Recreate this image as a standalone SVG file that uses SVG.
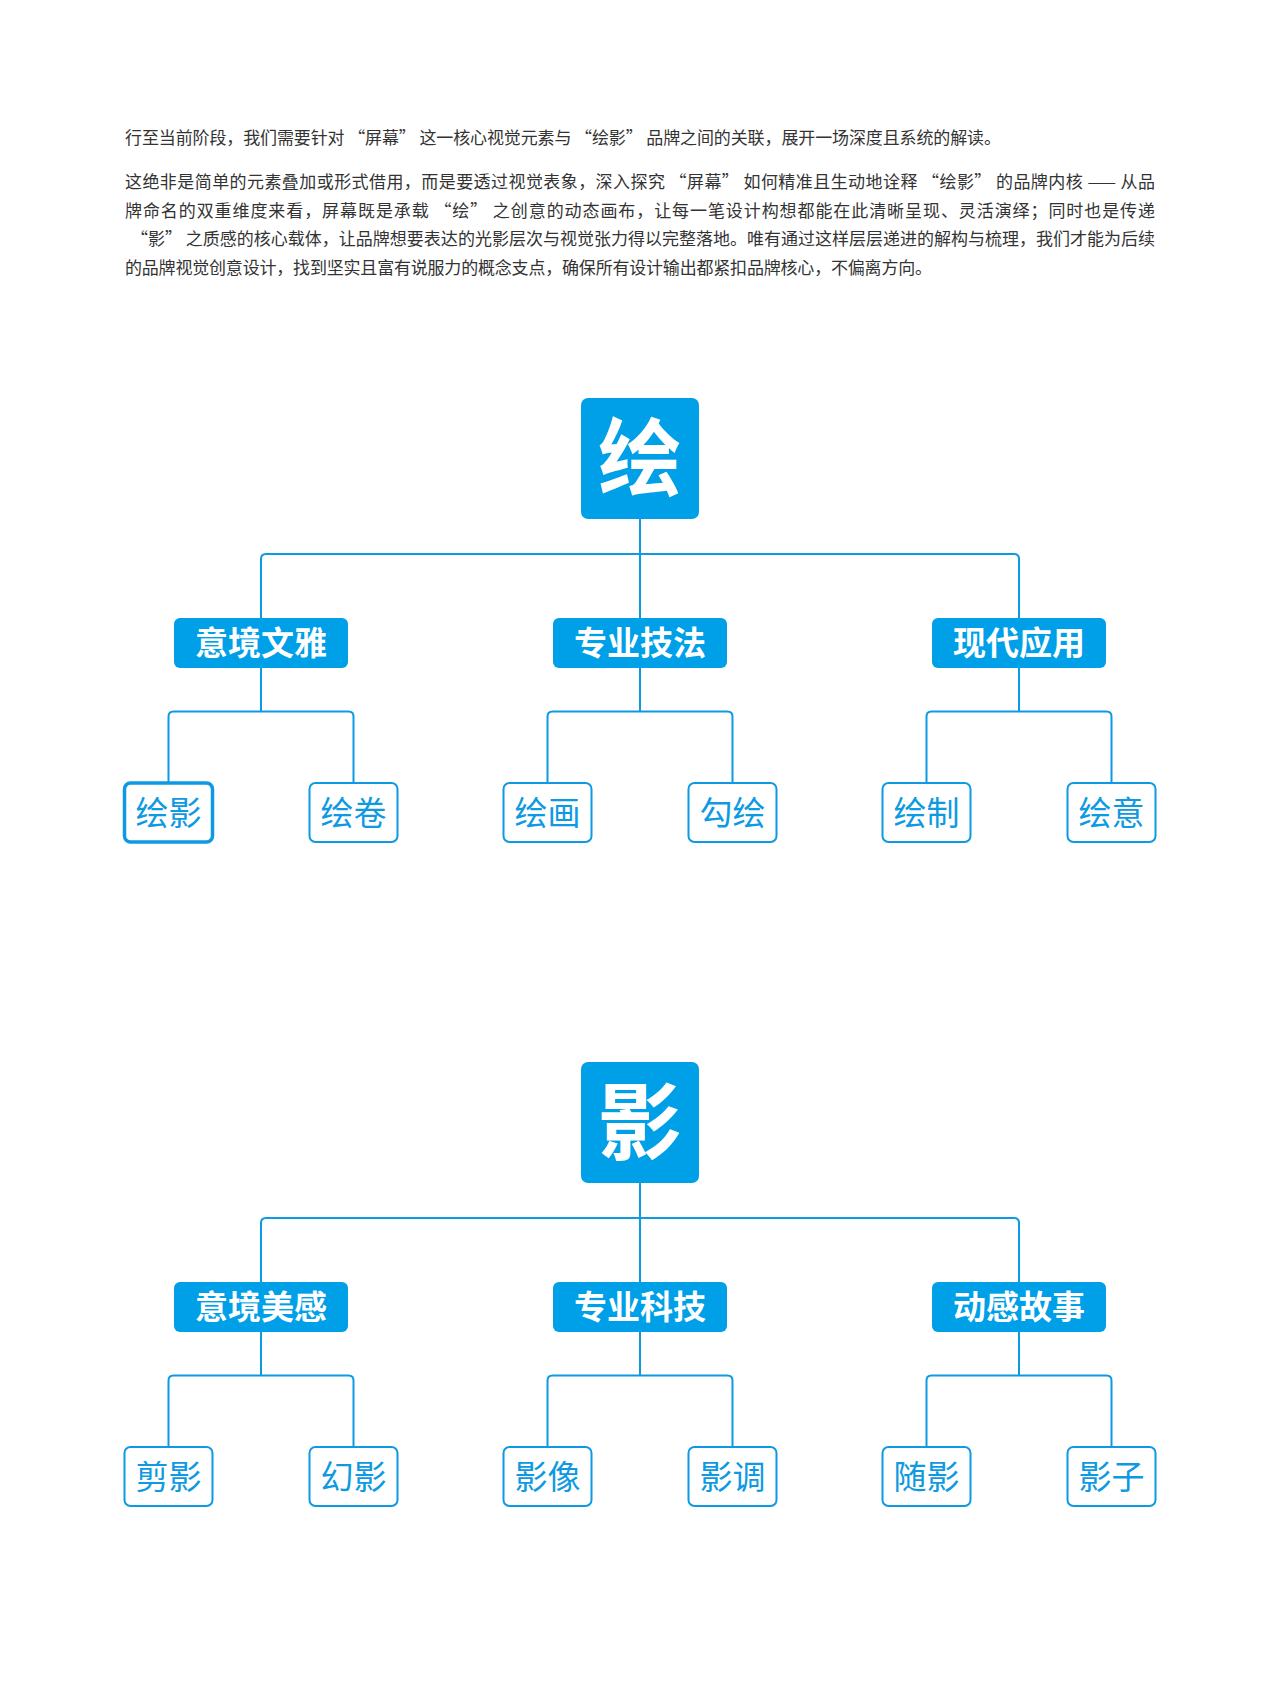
<svg xmlns="http://www.w3.org/2000/svg" width="1280" height="1707" viewBox="0 0 1280 1707">
<style>
.p{font-family:"Noto Sans CJK SC","Noto Sans",sans-serif;font-size:17px;fill:#333333}
.root rect{fill:#00a0e9}
.root text{font-family:"Noto Sans CJK SC",sans-serif;font-size:84px;font-weight:700;fill:#ffffff;text-anchor:middle}
.mid rect{fill:#00a0e9}
.mid text{font-family:"Noto Sans CJK SC",sans-serif;font-size:33px;font-weight:700;fill:#ffffff;text-anchor:middle}
.leaf rect{fill:#ffffff;stroke:#0e9ae2;stroke-width:2}
.leaf.sel rect{stroke-width:3.5}
.leaf text{font-family:"Noto Sans CJK SC",sans-serif;font-size:33px;font-weight:400;fill:#0e9ae2;text-anchor:middle}
.conn path{fill:none;stroke:#0e9ae2;stroke-width:2}
</style>
<rect width="1280" height="1707" fill="#ffffff"/>
<g id="intro">
<text class="p" x="125" y="143.5" textLength="876" lengthAdjust="spacing">行至当前阶段，我们需要针对 “屏幕” 这一核心视觉元素与 “绘影” 品牌之间的关联，展开一场深度且系统的解读。</text>
<text class="p" x="125" y="188" textLength="1030" lengthAdjust="spacing">这绝非是简单的元素叠加或形式借用，而是要透过视觉表象，深入探究 “屏幕” 如何精准且生动地诠释 “绘影” 的品牌内核 —— 从品</text>
<text class="p" x="125" y="216.5" textLength="1030" lengthAdjust="spacing">牌命名的双重维度来看，屏幕既是承载 “绘” 之创意的动态画布，让每一笔设计构想都能在此清晰呈现、灵活演绎；同时也是传递</text>
<text class="p" x="131" y="245" textLength="1024" lengthAdjust="spacing">“影” 之质感的核心载体，让品牌想要表达的光影层次与视觉张力得以完整落地。唯有通过这样层层递进的解构与梳理，我们才能为后续</text>
<text class="p" x="125" y="273.5" textLength="807" lengthAdjust="spacing">的品牌视觉创意设计，找到坚实且富有说服力的概念支点，确保所有设计输出都紧扣品牌核心，不偏离方向。</text>
</g>
<g id="connectors" class="conn">
<path d="M640 519 V618"/>
<path d="M261 618 V559 Q261 554 266 554 H1014 Q1019 554 1019 559 V618"/>
<path d="M261 668 V711.5 M168.5 783 V716.5 Q168.5 711.5 173.5 711.5 H348.5 Q353.5 711.5 353.5 716.5 V783"/>
<path d="M640 668 V711.5 M547.5 783 V716.5 Q547.5 711.5 552.5 711.5 H727.5 Q732.5 711.5 732.5 716.5 V783"/>
<path d="M1019 668 V711.5 M926.5 783 V716.5 Q926.5 711.5 931.5 711.5 H1106.5 Q1111.5 711.5 1111.5 716.5 V783"/>
<path d="M640 1183 V1282"/>
<path d="M261 1282 V1223 Q261 1218 266 1218 H1014 Q1019 1218 1019 1223 V1282"/>
<path d="M261 1332 V1375.5 M168.5 1447 V1380.5 Q168.5 1375.5 173.5 1375.5 H348.5 Q353.5 1375.5 353.5 1380.5 V1447"/>
<path d="M640 1332 V1375.5 M547.5 1447 V1380.5 Q547.5 1375.5 552.5 1375.5 H727.5 Q732.5 1375.5 732.5 1380.5 V1447"/>
<path d="M1019 1332 V1375.5 M926.5 1447 V1380.5 Q926.5 1375.5 931.5 1375.5 H1106.5 Q1111.5 1375.5 1111.5 1380.5 V1447"/>
</g>
<g id="n-hui" class="root"><rect x="581" y="398" width="118" height="121" rx="7"/><text x="640" y="489">绘</text></g>
<g id="n-yijingwenya" class="mid"><rect x="174" y="618" width="174" height="50" rx="6"/><text x="261" y="655">意境文雅</text></g>
<g id="n-zhuanyejifa" class="mid"><rect x="553" y="618" width="174" height="50" rx="6"/><text x="640" y="655">专业技法</text></g>
<g id="n-xiandaiyingyong" class="mid"><rect x="932" y="618" width="174" height="50" rx="6"/><text x="1019" y="655">现代应用</text></g>
<g id="n-huiying" class="leaf sel"><rect x="124.5" y="783" width="88" height="59" rx="6"/><text x="168.5" y="824.5">绘影</text></g>
<g id="n-huijuan" class="leaf"><rect x="309.5" y="783" width="88" height="59" rx="6"/><text x="353.5" y="824.5">绘卷</text></g>
<g id="n-huihua" class="leaf"><rect x="503.5" y="783" width="88" height="59" rx="6"/><text x="547.5" y="824.5">绘画</text></g>
<g id="n-gouhui" class="leaf"><rect x="688.5" y="783" width="88" height="59" rx="6"/><text x="732.5" y="824.5">勾绘</text></g>
<g id="n-huizhi" class="leaf"><rect x="882.5" y="783" width="88" height="59" rx="6"/><text x="926.5" y="824.5">绘制</text></g>
<g id="n-huiyi" class="leaf"><rect x="1067.5" y="783" width="88" height="59" rx="6"/><text x="1111.5" y="824.5">绘意</text></g>
<g id="n-ying" class="root"><rect x="581" y="1062" width="118" height="121" rx="7"/><text x="640" y="1153">影</text></g>
<g id="n-yijingmeigan" class="mid"><rect x="174" y="1282" width="174" height="50" rx="6"/><text x="261" y="1319">意境美感</text></g>
<g id="n-zhuanyekeji" class="mid"><rect x="553" y="1282" width="174" height="50" rx="6"/><text x="640" y="1319">专业科技</text></g>
<g id="n-donggangushi" class="mid"><rect x="932" y="1282" width="174" height="50" rx="6"/><text x="1019" y="1319">动感故事</text></g>
<g id="n-jianying" class="leaf"><rect x="124.5" y="1447" width="88" height="59" rx="6"/><text x="168.5" y="1488.5">剪影</text></g>
<g id="n-huanying" class="leaf"><rect x="309.5" y="1447" width="88" height="59" rx="6"/><text x="353.5" y="1488.5">幻影</text></g>
<g id="n-yingxiang" class="leaf"><rect x="503.5" y="1447" width="88" height="59" rx="6"/><text x="547.5" y="1488.5">影像</text></g>
<g id="n-yingdiao" class="leaf"><rect x="688.5" y="1447" width="88" height="59" rx="6"/><text x="732.5" y="1488.5">影调</text></g>
<g id="n-suiying" class="leaf"><rect x="882.5" y="1447" width="88" height="59" rx="6"/><text x="926.5" y="1488.5">随影</text></g>
<g id="n-yingzi" class="leaf"><rect x="1067.5" y="1447" width="88" height="59" rx="6"/><text x="1111.5" y="1488.5">影子</text></g>
</svg>
